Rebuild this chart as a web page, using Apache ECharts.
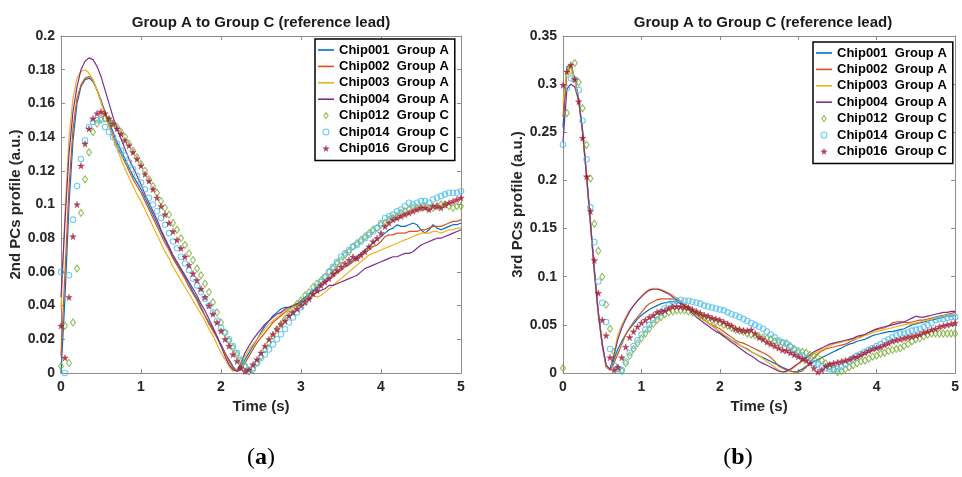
<!DOCTYPE html>
<html>
<head>
<meta charset="utf-8">
<script src="https://cdn.jsdelivr.net/npm/echarts@6/dist/echarts.min.js"></script>
<style>
  html, body { margin: 0; padding: 0; background: #fff; }
  #chart { width: 962px; height: 477px; }
</style>
</head>
<body>
<div id="chart"></div>
<script>
// Sampling grid: 0 to 5 s every 0.05 s (101 samples)
const time = Array.from({ length: 101 }, (_, i) => Math.round(i * 5) / 100);

const seriesNames = [
  'Chip001  Group A', 'Chip002  Group A', 'Chip003  Group A', 'Chip004  Group A',
  'Chip012  Group C', 'Chip014  Group C', 'Chip016  Group C'
];

const xTicks = [0, 1, 2, 3, 4, 5];
const yTicksA = [0, 0.02, 0.04, 0.06, 0.08, 0.1, 0.12, 0.14, 0.16, 0.18, 0.2];
const yTicksB = [0, 0.05, 0.1, 0.15, 0.2, 0.25, 0.3, 0.35];

// ---- (a) 2nd PCs profile ----
const a001 = [
  0.000,0.045,0.100,0.138,0.160,0.170,0.174,0.175,0.173,0.168,
  0.162,0.155,0.149,0.143,0.137,0.132,0.127,0.122,0.117,0.113,
  0.109,0.104,0.099,0.094,0.089,0.084,0.079,0.074,0.069,0.065,
  0.061,0.057,0.053,0.048,0.044,0.039,0.034,0.030,0.026,0.021,
  0.017,0.012,0.008,0.004,0.001,0.004,0.008,0.012,0.016,0.020,
  0.024,0.028,0.031,0.034,0.036,0.038,0.039,0.039,0.040,0.041,
  0.043,0.045,0.047,0.049,0.051,0.053,0.054,0.056,0.058,0.060,
  0.061,0.063,0.065,0.067,0.069,0.071,0.073,0.075,0.077,0.079,
  0.081,0.083,0.085,0.086,0.088,0.087,0.087,0.088,0.089,0.088,
  0.085,0.083,0.085,0.088,0.086,0.085,0.086,0.087,0.088,0.088,
  0.089];
const a002 = [
  0.010,0.060,0.110,0.145,0.163,0.171,0.175,0.176,0.174,0.168,
  0.161,0.154,0.147,0.141,0.135,0.130,0.125,0.120,0.115,0.111,
  0.107,0.102,0.097,0.092,0.087,0.082,0.077,0.073,0.068,0.064,
  0.060,0.056,0.051,0.047,0.043,0.038,0.034,0.029,0.025,0.021,
  0.016,0.012,0.007,0.003,0.001,0.002,0.006,0.010,0.014,0.018,
  0.021,0.024,0.027,0.030,0.032,0.034,0.036,0.038,0.040,0.041,
  0.042,0.044,0.046,0.048,0.050,0.052,0.054,0.056,0.057,0.059,
  0.061,0.063,0.064,0.066,0.068,0.070,0.072,0.073,0.075,0.076,
  0.078,0.081,0.082,0.082,0.083,0.083,0.083,0.084,0.084,0.084,
  0.085,0.085,0.086,0.087,0.087,0.087,0.088,0.089,0.090,0.090,
  0.091];
const a003 = [
  0.038,0.095,0.140,0.163,0.175,0.179,0.180,0.178,0.174,0.168,
  0.161,0.153,0.146,0.139,0.133,0.127,0.121,0.116,0.111,0.106,
  0.102,0.097,0.092,0.087,0.082,0.077,0.072,0.068,0.063,0.059,
  0.055,0.051,0.047,0.043,0.039,0.035,0.031,0.026,0.022,0.017,
  0.012,0.008,0.004,0.001,0.002,0.006,0.010,0.014,0.017,0.020,
  0.023,0.026,0.029,0.031,0.033,0.035,0.037,0.038,0.039,0.040,
  0.041,0.043,0.045,0.046,0.045,0.046,0.048,0.050,0.052,0.054,
  0.056,0.058,0.060,0.062,0.064,0.066,0.068,0.070,0.071,0.072,
  0.073,0.074,0.075,0.076,0.077,0.078,0.079,0.080,0.081,0.082,
  0.083,0.083,0.083,0.084,0.084,0.083,0.084,0.085,0.085,0.086,
  0.086];
const a004 = [
  0.045,0.090,0.130,0.155,0.170,0.180,0.185,0.187,0.186,0.182,
  0.176,0.168,0.160,0.152,0.145,0.139,0.133,0.127,0.122,0.117,
  0.112,0.106,0.101,0.096,0.091,0.085,0.080,0.075,0.070,0.066,
  0.062,0.058,0.054,0.050,0.046,0.041,0.037,0.032,0.027,0.022,
  0.016,0.010,0.005,0.002,0.001,0.006,0.012,0.016,0.020,0.023,
  0.026,0.029,0.031,0.033,0.035,0.036,0.038,0.039,0.040,0.041,
  0.042,0.043,0.044,0.046,0.048,0.049,0.050,0.052,0.052,0.053,
  0.054,0.055,0.056,0.057,0.058,0.060,0.062,0.063,0.064,0.065,
  0.066,0.067,0.068,0.069,0.069,0.070,0.071,0.071,0.072,0.074,
  0.076,0.077,0.078,0.079,0.080,0.080,0.081,0.082,0.083,0.084,
  0.085];
const a012 = [
  0.004,0.028,0.006,0.030,0.062,0.095,0.115,0.131,0.143,0.148,
  0.151,0.151,0.150,0.148,0.146,0.143,0.140,0.136,0.132,0.128,
  0.124,0.120,0.115,0.111,0.107,0.102,0.098,0.094,0.089,0.085,
  0.080,0.076,0.071,0.067,0.062,0.058,0.053,0.048,0.042,0.036,
  0.030,0.024,0.019,0.015,0.011,0.007,0.004,0.001,0.002,0.006,
  0.010,0.014,0.018,0.022,0.026,0.029,0.032,0.035,0.038,0.041,
  0.043,0.046,0.048,0.051,0.053,0.055,0.057,0.060,0.062,0.065,
  0.067,0.070,0.072,0.075,0.077,0.079,0.081,0.083,0.085,0.086,
  0.088,0.089,0.091,0.092,0.093,0.095,0.096,0.097,0.098,0.098,
  0.098,0.099,0.098,0.098,0.099,0.100,0.100,0.099,0.098,0.099,
  0.099];
const a014 = [
  0.060,0.000,0.058,0.091,0.111,0.127,0.138,0.146,0.149,0.150,
  0.150,0.146,0.143,0.140,0.136,0.132,0.129,0.125,0.121,0.117,
  0.113,0.109,0.104,0.100,0.096,0.092,0.088,0.083,0.078,0.074,
  0.069,0.065,0.061,0.056,0.052,0.048,0.044,0.040,0.036,0.031,
  0.027,0.024,0.020,0.016,0.012,0.008,0.004,0.001,0.003,0.006,
  0.009,0.011,0.014,0.017,0.020,0.023,0.026,0.030,0.033,0.036,
  0.039,0.042,0.045,0.048,0.051,0.054,0.057,0.060,0.063,0.066,
  0.069,0.071,0.073,0.075,0.076,0.078,0.080,0.082,0.084,0.086,
  0.089,0.092,0.093,0.094,0.096,0.097,0.099,0.101,0.100,0.101,
  0.102,0.102,0.101,0.103,0.104,0.105,0.106,0.107,0.107,0.107,
  0.108];
const a016 = [
  0.028,0.009,0.045,0.081,0.100,0.123,0.136,0.145,0.151,0.154,
  0.155,0.154,0.151,0.148,0.145,0.142,0.138,0.135,0.131,0.127,
  0.123,0.118,0.114,0.109,0.104,0.099,0.094,0.089,0.084,0.079,
  0.074,0.069,0.064,0.059,0.055,0.050,0.045,0.040,0.035,0.030,
  0.025,0.020,0.016,0.011,0.007,0.003,0.001,0.002,0.005,0.008,
  0.012,0.016,0.020,0.023,0.026,0.029,0.031,0.034,0.036,0.038,
  0.040,0.042,0.044,0.047,0.049,0.052,0.054,0.056,0.059,0.061,
  0.063,0.065,0.067,0.069,0.068,0.070,0.072,0.075,0.078,0.080,
  0.083,0.087,0.089,0.091,0.092,0.093,0.094,0.095,0.096,0.097,
  0.098,0.098,0.097,0.099,0.099,0.098,0.100,0.101,0.102,0.103,
  0.104];

// ---- (b) 3rd PCs profile ----
const b001 = [
  0.255,0.318,0.320,0.306,0.285,0.252,0.207,0.158,0.108,0.064,
  0.031,0.008,0.003,0.014,0.025,0.033,0.040,0.046,0.051,0.056,
  0.060,0.063,0.066,0.068,0.070,0.072,0.073,0.074,0.074,0.074,
  0.072,0.070,0.067,0.064,0.061,0.058,0.055,0.052,0.049,0.046,
  0.042,0.039,0.037,0.034,0.032,0.029,0.027,0.025,0.022,0.020,
  0.018,0.016,0.014,0.012,0.010,0.008,0.006,0.004,0.002,0.001,
  0.002,0.004,0.007,0.009,0.012,0.014,0.016,0.018,0.020,0.022,
  0.024,0.026,0.028,0.030,0.031,0.033,0.034,0.035,0.037,0.039,
  0.040,0.041,0.042,0.043,0.043,0.044,0.045,0.046,0.048,0.050,
  0.051,0.052,0.053,0.054,0.055,0.056,0.057,0.058,0.059,0.059,
  0.060];
const b002 = [
  0.266,0.312,0.318,0.305,0.283,0.250,0.205,0.156,0.106,0.062,
  0.029,0.006,0.003,0.010,0.020,0.030,0.040,0.047,0.053,0.058,
  0.063,0.068,0.072,0.074,0.076,0.077,0.077,0.077,0.077,0.076,
  0.074,0.072,0.069,0.066,0.062,0.059,0.055,0.052,0.050,0.048,
  0.046,0.043,0.040,0.037,0.034,0.032,0.031,0.029,0.027,0.025,
  0.023,0.021,0.019,0.016,0.012,0.007,0.005,0.003,0.002,0.001,
  0.001,0.002,0.006,0.011,0.016,0.020,0.023,0.025,0.026,0.027,
  0.028,0.029,0.030,0.032,0.034,0.036,0.038,0.040,0.042,0.044,
  0.045,0.046,0.047,0.049,0.052,0.053,0.053,0.053,0.052,0.053,
  0.054,0.055,0.055,0.056,0.057,0.058,0.059,0.060,0.061,0.062,
  0.063];
const b003 = [
  0.280,0.315,0.320,0.304,0.282,0.249,0.203,0.153,0.103,0.060,
  0.028,0.006,0.004,0.020,0.040,0.050,0.058,0.065,0.070,0.075,
  0.080,0.084,0.087,0.088,0.088,0.087,0.085,0.083,0.081,0.078,
  0.075,0.071,0.068,0.065,0.062,0.058,0.055,0.052,0.049,0.046,
  0.043,0.040,0.037,0.034,0.031,0.029,0.027,0.024,0.022,0.020,
  0.018,0.015,0.012,0.009,0.006,0.003,0.001,0.001,0.003,0.006,
  0.009,0.012,0.015,0.018,0.020,0.022,0.024,0.026,0.028,0.030,
  0.031,0.032,0.033,0.034,0.035,0.036,0.037,0.039,0.040,0.042,
  0.043,0.044,0.045,0.046,0.047,0.048,0.049,0.050,0.051,0.051,
  0.052,0.053,0.054,0.055,0.056,0.057,0.058,0.059,0.059,0.060,
  0.060];
const b004 = [
  0.240,0.295,0.300,0.297,0.283,0.250,0.205,0.155,0.105,0.062,
  0.030,0.008,0.004,0.018,0.035,0.047,0.056,0.064,0.070,0.075,
  0.079,0.083,0.086,0.087,0.087,0.086,0.084,0.082,0.079,0.076,
  0.073,0.070,0.066,0.062,0.058,0.055,0.052,0.049,0.046,0.043,
  0.041,0.038,0.035,0.032,0.029,0.026,0.023,0.020,0.018,0.015,
  0.012,0.010,0.008,0.006,0.004,0.002,0.001,0.002,0.004,0.007,
  0.010,0.013,0.016,0.019,0.022,0.024,0.026,0.028,0.030,0.031,
  0.032,0.033,0.034,0.035,0.036,0.038,0.039,0.040,0.042,0.044,
  0.046,0.047,0.048,0.049,0.050,0.051,0.052,0.053,0.055,0.057,
  0.059,0.058,0.058,0.059,0.060,0.061,0.062,0.063,0.063,0.064,
  0.064];
const b012 = [
  0.005,0.270,0.314,0.322,0.302,0.275,0.237,0.202,0.155,0.127,
  0.100,0.071,0.046,0.022,0.005,0.002,0.010,0.018,0.025,0.031,
  0.036,0.041,0.046,0.051,0.055,0.058,0.061,0.063,0.064,0.065,
  0.065,0.065,0.064,0.063,0.062,0.060,0.058,0.057,0.055,0.053,
  0.052,0.050,0.049,0.047,0.045,0.044,0.043,0.041,0.040,0.039,
  0.038,0.037,0.036,0.035,0.033,0.032,0.031,0.031,0.028,0.025,
  0.023,0.022,0.021,0.019,0.018,0.016,0.013,0.010,0.007,0.004,
  0.001,0.002,0.004,0.006,0.008,0.010,0.012,0.013,0.015,0.017,
  0.018,0.020,0.021,0.023,0.024,0.025,0.026,0.028,0.030,0.033,
  0.035,0.036,0.038,0.040,0.041,0.041,0.041,0.041,0.041,0.041,
  0.041];
const b014 = [
  0.237,0.296,0.306,0.305,0.294,0.262,0.222,0.172,0.136,0.095,
  0.073,0.053,0.025,0.008,0.004,0.003,0.012,0.021,0.028,0.034,
  0.040,0.045,0.050,0.055,0.059,0.063,0.067,0.071,0.074,0.075,
  0.076,0.075,0.075,0.074,0.073,0.072,0.070,0.069,0.068,0.067,
  0.066,0.065,0.063,0.061,0.060,0.058,0.056,0.054,0.052,0.050,
  0.048,0.046,0.043,0.040,0.037,0.034,0.032,0.030,0.027,0.024,
  0.021,0.018,0.015,0.012,0.010,0.009,0.007,0.005,0.004,0.003,
  0.004,0.006,0.009,0.012,0.015,0.018,0.020,0.022,0.024,0.026,
  0.028,0.030,0.033,0.035,0.037,0.039,0.041,0.041,0.042,0.044,
  0.045,0.046,0.048,0.050,0.052,0.055,0.056,0.056,0.057,0.058,
  0.058];
const b016 = [
  0.299,0.313,0.320,0.305,0.282,0.244,0.204,0.168,0.117,0.083,
  0.055,0.039,0.016,0.003,0.006,0.016,0.027,0.037,0.043,0.048,
  0.052,0.055,0.058,0.060,0.063,0.064,0.065,0.067,0.069,0.069,
  0.069,0.068,0.068,0.066,0.064,0.062,0.060,0.059,0.057,0.056,
  0.055,0.053,0.051,0.049,0.046,0.045,0.044,0.044,0.045,0.041,
  0.037,0.035,0.032,0.030,0.028,0.026,0.024,0.023,0.021,0.019,
  0.017,0.015,0.013,0.010,0.005,0.001,0.003,0.007,0.009,0.010,
  0.011,0.012,0.013,0.014,0.016,0.017,0.019,0.021,0.023,0.025,
  0.026,0.027,0.029,0.031,0.033,0.034,0.035,0.036,0.037,0.038,
  0.039,0.040,0.042,0.043,0.045,0.046,0.048,0.049,0.050,0.051,
  0.052];

const SANS = '"Liberation Sans", Arial, Helvetica, sans-serif';
const SERIF = '"Liberation Serif", "Times New Roman", serif';
const AXIS_COLOR = '#8c8c8c';
const TEXT_COLOR = '#262626';
const COLORS = ['#0072BD', '#D95319', '#EDB120', '#7E2F8E', '#77AC30', '#4DBEEE', '#A2142F'];
const STAR = 'path://M50,0 L61,35 L98,35 L68,57 L79,91 L50,70 L21,91 L32,57 L2,35 L39,35 Z';
const DIAMOND = 'path://M50,0 L100,70 L50,140 L0,70 Z';
const LINE_ICON = 'path://M0,0 L100,0 L100,10 L0,10 Z';

const panels = [
  { left: 61, yMax: 0.2, yStep: 0.02, yName: '2nd PCs profile (a.u.)', lines: [a001, a002, a003, a004], marks: [a012, a014, a016] },
  { left: 563, yMax: 0.35, yStep: 0.05, yName: '3rd PCs profile (a.u.)', lines: [b001, b002, b003, b004], marks: [b012, b014, b016] }
];
const PLOT_W = 400, PLOT_TOP = 36, PLOT_H = 337;

const grids = [], xAxes = [], yAxes = [], series = [];

const markStyles = [
  { symbol: DIAMOND, symbolSize: [5, 7], itemStyle: { color: 'rgba(255,255,255,0)', borderColor: COLORS[4], borderWidth: 1.1 } },
  { symbol: 'circle', symbolSize: 5.5, itemStyle: { color: 'rgba(255,255,255,0)', borderColor: COLORS[5], borderWidth: 1.1 } },
  { symbol: STAR, symbolSize: 6.5, itemStyle: { color: COLORS[6], borderColor: COLORS[6], borderWidth: 0.4 } }
];

panels.forEach((p, gi) => {
  grids.push({ left: p.left, top: PLOT_TOP, width: PLOT_W, height: PLOT_H, containLabel: false });
  const lineCommon = { show: true, onZero: false, lineStyle: { color: AXIS_COLOR, width: 1 } };
  const tickCommon = { show: true, inside: true, length: 4, lineStyle: { color: AXIS_COLOR, width: 1 } };
  const labelFont = { fontFamily: SANS, fontWeight: 'bold', fontSize: 14, color: TEXT_COLOR };
  xAxes.push({
    gridIndex: gi, type: 'value', position: 'bottom', min: xTicks[0], max: xTicks[xTicks.length - 1], interval: 1,
    name: 'Time (s)', nameLocation: 'middle', nameGap: 26,
    nameTextStyle: { fontFamily: SANS, fontWeight: 'bold', fontSize: 15, color: TEXT_COLOR },
    axisLine: lineCommon, axisTick: tickCommon,
    axisLabel: Object.assign({ margin: 7 }, labelFont), splitLine: { show: false }
  });
  xAxes.push({
    gridIndex: gi, type: 'value', position: 'top', min: xTicks[0], max: xTicks[xTicks.length - 1], interval: 1,
    axisLine: lineCommon, axisTick: tickCommon, axisLabel: { show: false }, splitLine: { show: false }
  });
  yAxes.push({
    gridIndex: gi, type: 'value', position: 'left', min: 0, max: p.yMax, interval: p.yStep,
    name: p.yName, nameLocation: 'middle', nameGap: 28, nameRotate: 90,
    nameTextStyle: { fontFamily: SANS, fontWeight: 'bold', fontSize: 15, color: TEXT_COLOR },
    axisLine: lineCommon, axisTick: tickCommon,
    axisLabel: Object.assign({ margin: 6 }, labelFont), splitLine: { show: false }
  });
  yAxes.push({
    gridIndex: gi, type: 'value', position: 'right', min: 0, max: p.yMax, interval: p.yStep,
    axisLine: lineCommon, axisTick: tickCommon, axisLabel: { show: false }, splitLine: { show: false }
  });

  p.lines.forEach((vals, k) => {
    series.push({
      type: 'line', name: seriesNames[k], xAxisIndex: gi * 2, yAxisIndex: gi * 2,
      data: time.map((t, i) => [t, vals[i]]),
      symbol: 'none', lineStyle: { width: 1.2, color: COLORS[k] }, itemStyle: { color: COLORS[k] },
      silent: true, z: 2
    });
  });
  p.marks.forEach((vals, k) => {
    series.push(Object.assign({
      type: 'scatter', name: seriesNames[4 + k], xAxisIndex: gi * 2, yAxisIndex: gi * 2,
      data: time.map((t, i) => [t, vals[i]]), silent: true, z: 3
    }, markStyles[k]));
  });
});

// Legend entries: a short bar for the curves, the marker shape for the point series
const legendData = seriesNames.map((name, k) => {
  if (k < 4) return { name, icon: LINE_ICON, itemStyle: { color: COLORS[k], borderWidth: 0 } };
  const m = markStyles[k - 4];
  return { name, icon: m.symbol, itemStyle: m.itemStyle };
});

const legendCommon = {
  orient: 'vertical', data: legendData, selectedMode: false,
  itemWidth: 16, itemHeight: 6, itemGap: 2.4, symbolKeepAspect: true,
  padding: [4, 6, 5, 3],
  borderColor: '#000', borderWidth: 1.5, backgroundColor: '#fff',
  textStyle: { fontFamily: SANS, fontWeight: 'bold', fontSize: 13, color: '#000', lineHeight: 14 }
};

const chart = echarts.init(document.getElementById('chart'), null, { renderer: 'canvas' });
chart.setOption({
  animation: false,
  backgroundColor: '#fff',
  grid: grids,
  xAxis: xAxes,
  yAxis: yAxes,
  legend: [
    Object.assign({ left: 315, top: 39 }, legendCommon),
    Object.assign({ left: 813, top: 42 }, legendCommon)
  ],
  graphic: [
    { type: 'text', silent: true, style: { text: 'Group A to Group C (reference lead)', x: 261, y: 23, align: 'center', verticalAlign: 'middle', font: 'bold 15px ' + SANS, fill: '#1a1a1a' } },
    { type: 'text', silent: true, style: { text: 'Group A to Group C (reference lead)', x: 763, y: 23, align: 'center', verticalAlign: 'middle', font: 'bold 15px ' + SANS, fill: '#1a1a1a' } },
    { type: 'text', silent: true, style: { text: '{p|(}{b|a}{p|)}', x: 261, y: 458, align: 'center', verticalAlign: 'middle',
        rich: { p: { fontFamily: SERIF, fontSize: 24, fill: '#000' }, b: { fontFamily: SERIF, fontSize: 24, fontWeight: 'bold', fill: '#000' } } } },
    { type: 'text', silent: true, style: { text: '{p|(}{b|b}{p|)}', x: 738, y: 458, align: 'center', verticalAlign: 'middle',
        rich: { p: { fontFamily: SERIF, fontSize: 24, fill: '#000' }, b: { fontFamily: SERIF, fontSize: 24, fontWeight: 'bold', fill: '#000' } } } }
  ],
  series: series
});
</script>
</body>
</html>
